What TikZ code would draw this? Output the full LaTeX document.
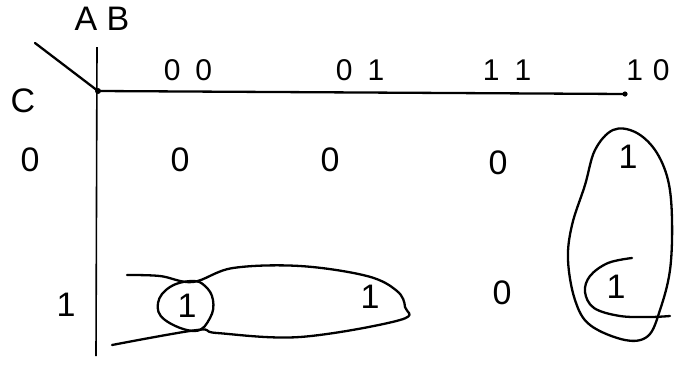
\documentclass[tikz,border=0pt]{standalone}
\usepackage{fontspec}
\setmainfont{Liberation Sans}
\begin{document}
\begin{tikzpicture}[x=1pt,y=-1pt,
  pen/.style={line width=2.3pt,line cap=round,line join=round,black},
  hand/.style={font=\fontsize{34}{34}\selectfont,inner sep=0pt},
  head/.style={font=\fontsize{30}{30}\selectfont,inner sep=0pt}]
\useasboundingbox (0,0) rectangle (684,370);
% axes
\coordinate (corner) at (98,91);
\coordinate (diag) at (35,43);
\coordinate (vtop) at (97,47);
\coordinate (vbot) at (96,356);
\coordinate (hend) at (625,94);
\draw[pen] (diag) -- (corner);
\draw[line width=1.6pt] (vtop) -- (vbot);
\draw[pen] (corner) -- (hend);
\fill (corner) circle (3pt);
\fill (hend) circle (2.6pt);
% labels
\node[head,font=\fontsize{34}{34}\selectfont] (AB) at (102,19) {A B};
\node[head,font=\fontsize{34}{34}\selectfont] (C) at (23,101) {C};
\node[head] (h00) at (188,70) {0\,\,\,0};
\node[head] (h01) at (360,70) {0\,\,\,1};
\node[head] (h11) at (507,70) {1\,\,\,1};
\node[head] (h10) at (648,70) {1\,\,0};
\node[hand] (r0) at (30,160) {0};
\node[hand] (r1) at (66,305) {1};
% cells
\node[hand] (c00) at (180,160) {0};
\node[hand] (c01) at (330,160) {0};
\node[hand] (c11) at (498,163) {0};
\node[hand] (c10) at (628,157) {1};
\node[hand] (d00) at (187,306) {1};
\node[hand] (d01) at (370,297) {1};
\node[hand] (d11) at (502,293) {0};
\node[hand] (d10) at (616,287) {1};
% loops
\draw[pen] plot[smooth, tension=0.6] coordinates {(127,275) (160,276) (193,282) (233,268) (300,266) (367,276) (397,291) (405,307) (400,320) (300,337) (217,333) (197,330) (112,345)};
\draw[pen] plot[smooth cycle, tension=0.7] coordinates {(192,281) (170,287) (158,303) (165,320) (195,331) (210,318) (213,300) (205,286)};
\draw[pen] plot[smooth cycle, tension=0.6] coordinates {(613,130) (595,150) (585,185) (572,225) (568,260) (575,300) (590,325) (625,340) (648,336) (660,310) (670,270) (672,220) (668,180) (655,150) (635,132)};
\draw[pen] plot[smooth, tension=0.6] coordinates {(632,258) (608,263) (590,276) (585,292) (594,308) (620,316) (650,317) (670,316)};
\end{tikzpicture}
\end{document}
